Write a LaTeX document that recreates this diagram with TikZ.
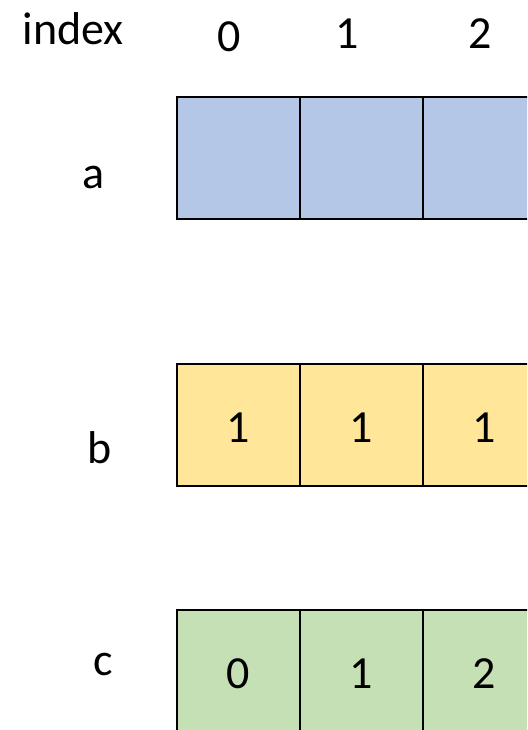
\documentclass[tikz,border=0pt]{standalone}
\usepackage{fontspec}
\setmainfont{Carlito}
\definecolor{cblue}{HTML}{B4C7E7}
\definecolor{cyellow}{HTML}{FFE699}
\definecolor{cgreen}{HTML}{C5E0B4}
\begin{document}
\begin{tikzpicture}[x=1pt,y=-1pt,
  cell/.style={draw=black,line width=2pt,minimum width=123pt,minimum height=122pt,inner sep=0pt,outer sep=0pt},
  txt/.style={font=\fontsize{46}{50}\selectfont,anchor=base,inner sep=0pt}]
\useasboundingbox (0,0) rectangle (527,730);
\clip (0,0) rectangle (527,730);
% header
\node[txt] (hidx) at (73,45) {index};
\node[txt] (h0) at (229,52) {0};
\node[txt] (h1) at (347,49) {1};
\node[txt] (h2) at (480,49) {2};
% row labels
\node[txt] (la) at (94,188) {a};
\node[txt] (lb) at (99.5,463) {b};
\node[txt] (lc) at (103,675) {c};
% row a
\node[cell,fill=cblue] (a0) at (238.5,158) {};
\node[cell,fill=cblue] (a1) at (361.5,158) {};
\node[cell,fill=cblue] (a2) at (484.5,158) {};
% row b
\node[cell,fill=cyellow] (b0) at (238.5,424.5) {};
\node[cell,fill=cyellow] (b1) at (361.5,424.5) {};
\node[cell,fill=cyellow] (b2) at (484.5,424.5) {};
\node[txt] (tb0) at (238.5,442) {1};
\node[txt] (tb1) at (361.5,442) {1};
\node[txt] (tb2) at (484.5,442) {1};
% row c
\node[cell,fill=cgreen] (c0) at (238.5,671) {};
\node[cell,fill=cgreen] (c1) at (361.5,671) {};
\node[cell,fill=cgreen] (c2) at (484.5,671) {};
\node[txt] (tc0) at (238.5,688) {0};
\node[txt] (tc1) at (361.5,688) {1};
\node[txt] (tc2) at (484.5,688) {2};
\end{tikzpicture}
\end{document}
